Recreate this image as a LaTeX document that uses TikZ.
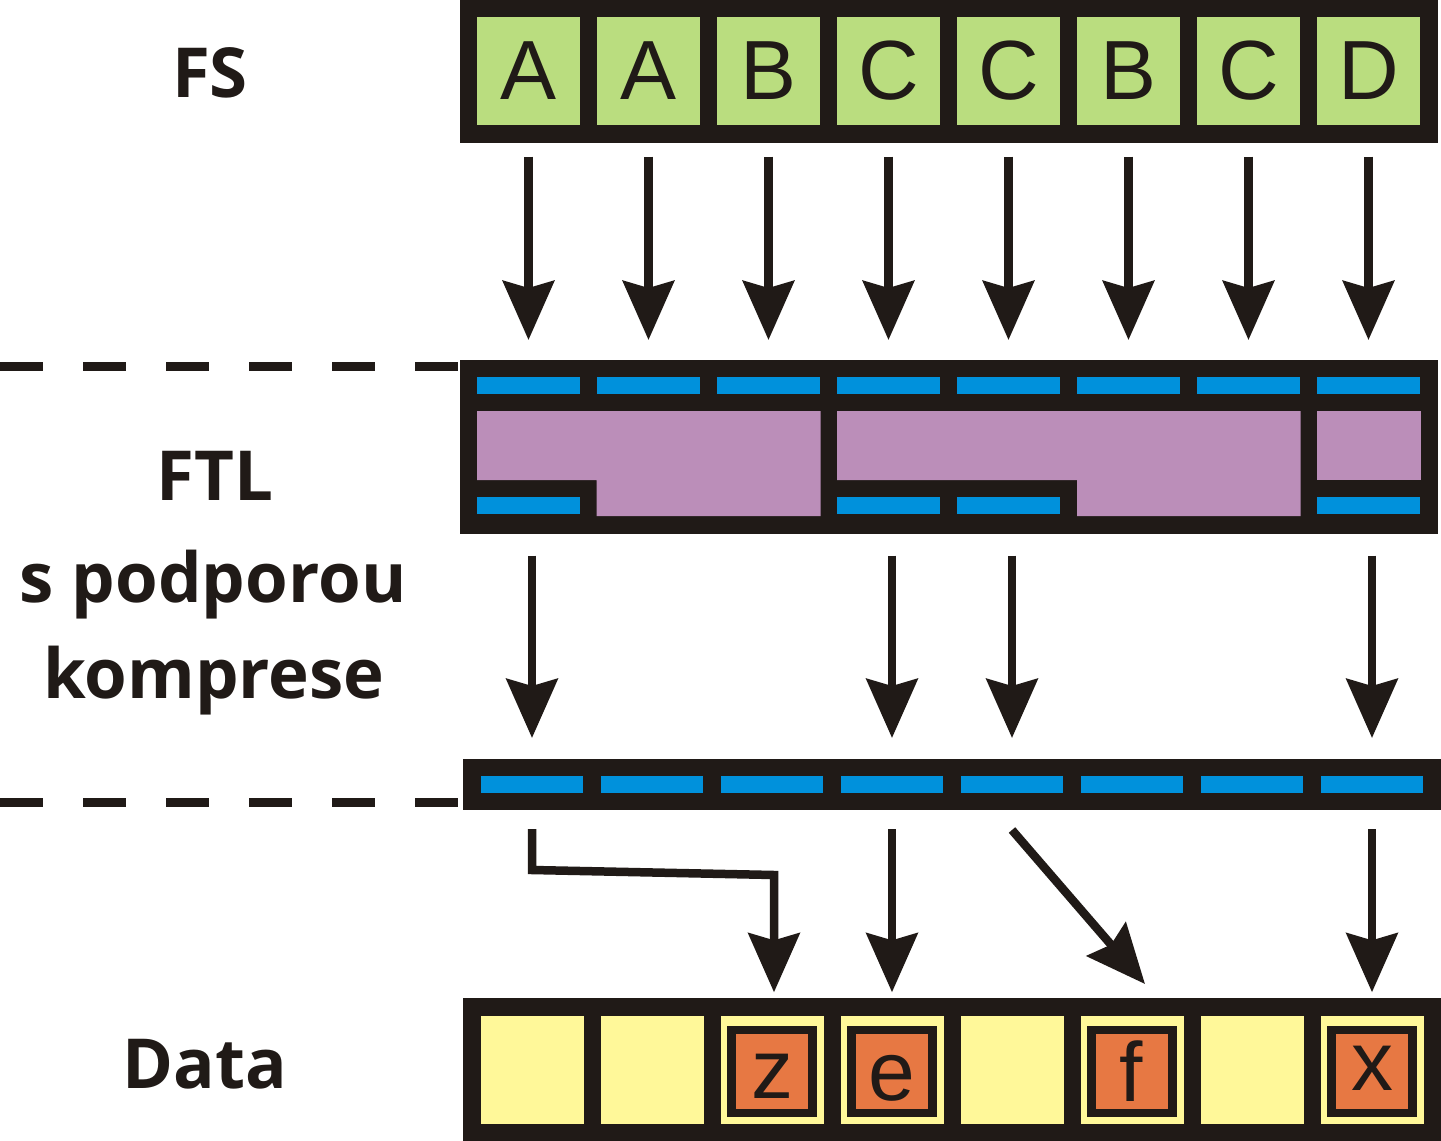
\documentclass[tikz,border=0pt]{standalone}
\usepackage{fontspec}
\usetikzlibrary{arrows.meta}
\newfontfamily\lettersf{Liberation Sans}
\newfontfamily\labelsf{Open Sans}
\definecolor{ink}{RGB}{32,26,23}
\definecolor{fsgreen}{RGB}{186,221,127}
\definecolor{blu}{RGB}{0,145,220}
\definecolor{purp}{RGB}{187,142,185}
\definecolor{yel}{RGB}{255,248,153}
\definecolor{orng}{RGB}{231,120,67}
\begin{document}
\begin{tikzpicture}[x=0.5pt,y=-0.5pt,
  bigbox/.style={rectangle, fill=ink, inner sep=0pt, outer sep=0pt, minimum width=489pt},
  fscell/.style={rectangle, fill=fsgreen, inner sep=0pt, outer sep=0pt, minimum width=51.5pt, minimum height=54.3pt, text=ink, font=\lettersf\fontsize{42}{48}\selectfont},
  strip/.style={rectangle, fill=blu, inner sep=0pt, outer sep=0pt, minimum width=51.5pt, minimum height=8.4pt},
  ycell/.style={rectangle, fill=yel, inner sep=0pt, outer sep=0pt, minimum width=51.5pt, minimum height=54pt},
  oframe/.style={rectangle, fill=orng, draw=ink, line width=4.2pt, inner sep=0pt, outer sep=0pt, minimum width=40.5pt, minimum height=41.5pt},
  dletter/.style={anchor=base, inner sep=0pt, text=ink, font=\lettersf\fontsize{42}{48}\selectfont},
  lbl/.style={anchor=base, inner sep=0pt, text=ink, font=\labelsf\bfseries\fontsize{34.5}{41}\selectfont},
  arr/.style={draw=ink, line width=4.25pt, -{Stealth[length=29.5pt,width=25.5pt,inset=3.5pt]}},
  dashline/.style={draw=ink, line width=4.5pt, dash pattern=on 21.5pt off 20pt},
  purple/.style={fill=purp}
]
\fill[white] (0,0) rectangle (1441,1141);
\useasboundingbox (0,0) rectangle (1441,1141);

% ---------- FS ----------
\node[bigbox, minimum height=71.35pt] (fsbox) at (949,71.35) {};
\foreach \i/\t [count=\k from 0] in {1/A,2/A,3/B,4/C,5/C,6/B,7/C,8/D}
  \node[fscell] (fs\i) at ({528.5+120*\k},71) {\t};

% ---------- FTL ----------
\node[bigbox, minimum height=86.85pt] (ftlbox) at (949,446.85) {};
\foreach \i [count=\k from 0] in {1,...,8}
  \node[strip] (ftlu\i) at ({528.5+120*\k},385.7) {};
\fill[purple] (477,411) -- (820.5,411) -- (820.5,516) -- (596.5,516) -- (596.5,480) -- (477,480) -- cycle;
\fill[purple] (837,411) -- (1300.5,411) -- (1300.5,516) -- (1077,516) -- (1077,480) -- (837,480) -- cycle;
\fill[purple] (1317,411) rectangle (1420.5,480);
\node[strip] (ftll1) at (528.5,505.7) {};
\node[strip] (ftll4) at (888.5,505.7) {};
\node[strip] (ftll5) at (1008.5,505.7) {};
\node[strip] (ftll8) at (1368.5,505.7) {};

% ---------- middle bar ----------
\node[bigbox, minimum height=25.5pt] (midbox) at (952,784.5) {};
\foreach \i [count=\k from 0] in {1,...,8}
  \node[strip, minimum width=51pt, minimum height=8.5pt] (m\i) at ({532+120*\k},784.2) {};

% ---------- Data ----------
\node[bigbox, minimum height=71.35pt] (databox) at (952,1069.65) {};
\foreach \i [count=\k from 0] in {1,...,8}
  \node[ycell] (d\i) at ({532+120*\k},1069.7) {};
\node[oframe] (o3) at (772,1071.7) {};
\node[oframe] (o4) at (892,1071.7) {};
\node[oframe] (o6) at (1132,1071.7) {};
\node[oframe] (o8) at (1372,1071.7) {};
\node[dletter] (lz) at (772,1098) {z};
\node[dletter] (le) at (892,1100) {e};
\node[dletter] (lf) at (1131,1101.5) {f};
\node[dletter] (lx) at (1372,1090) {x};

% ---------- labels ----------
\node[lbl] (tfs) at (210,97) {FS};
\node[lbl] (tftl) at (215,500) {FTL};
\node[lbl] (tsp) at (213,602) {s podporou};
\node[lbl] (tkomp) at (214,698) {komprese};
\node[lbl] (tdata) at (205,1088) {Data};

% ---------- dashed separators ----------
\coordinate (dl1) at (0,366);
\coordinate (dl2) at (0,802);
\draw[dashline] (dl1) -- (ftlbox.west |- dl1);
\draw[dashline] (dl2) -- (midbox.west |- dl2);

% ---------- arrows FS -> FTL ----------
\foreach \i in {1,...,8}
  \draw[arr, shorten <=7pt, shorten >=10pt] (fs\i |- fsbox.south) -- (fs\i |- ftlbox.north);

% ---------- arrows FTL -> middle ----------
\foreach \i in {1,4,5,8}
  \draw[arr, shorten <=11pt, shorten >=10.5pt] (m\i |- ftlbox.south) -- (m\i |- midbox.north);

% ---------- arrows middle -> Data ----------
\coordinate (b1) at (531,870);
\coordinate (b2) at (774,875);
\draw[arr, shorten <=9.5pt, shorten >=3pt] (m1 |- midbox.south) -- (m1 |- b1) -- (b2) -- (b2 |- databox.north);
\draw[arr, shorten <=9.5pt, shorten >=3pt] (m4 |- midbox.south) -- (m4 |- databox.north);
\coordinate (ds) at (1012,830);
\coordinate (de) at (1145,984);
\draw[arr] (ds) -- (de);
\draw[arr, shorten <=9.5pt, shorten >=3pt] (m8 |- midbox.south) -- (m8 |- databox.north);
\end{tikzpicture}
\end{document}
